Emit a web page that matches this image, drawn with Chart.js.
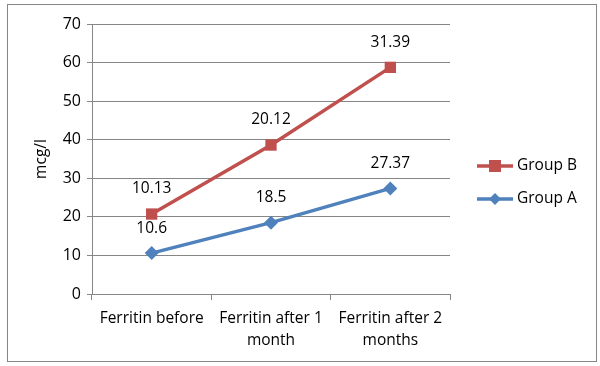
<!DOCTYPE html>
<html>
<head>
<meta charset="utf-8">
<script src="https://cdn.jsdelivr.net/npm/chart.js@4"></script>
<style>
  html, body { margin: 0; padding: 0; background: #fff; }
  #wrap { width: 600px; height: 366px; position: relative; }
</style>
</head>
<body>
<div id="wrap"><canvas id="myChart" width="600" height="366"></canvas></div>
<script>
// Data (Excel stacked line: B sits on top of A)
const categories = ['Ferritin before', ['Ferritin after 1', 'month'], ['Ferritin after 2', 'months']];
const groupA = [10.6, 18.5, 27.37];
const groupB = [10.13, 20.12, 31.39];
const seriesNames = ['Group A', 'Group B'];
const yTicksMax = 70;

const FONT = '"Open Sans", sans-serif';
const colA = '#4F81BD';
const colB = '#C0504D';

// frame round the whole chart
const framePlugin = {
  id: 'frame',
  beforeDraw(chart) {
    const c = chart.ctx;
    c.save();
    c.fillStyle = '#fff';
    c.fillRect(0, 0, chart.width, chart.height);
    c.strokeStyle = '#868686';
    c.lineWidth = 1;
    c.strokeRect(7.5, 4.5, 589, 357);
    c.restore();
  }
};

// value labels above each point (raw values, not stacked totals)
const valueLabels = {
  id: 'valueLabels',
  afterDatasetsDraw(chart) {
    const c = chart.ctx;
    c.save();
    c.font = '15.5px ' + FONT;
    c.fillStyle = '#000';
    c.textAlign = 'center';
    c.textBaseline = 'middle';
    chart.data.datasets.forEach((ds, i) => {
      chart.getDatasetMeta(i).data.forEach((pt, j) => {
        c.fillText(String(ds.data[j]), pt.x, pt.y - 25);
      });
    });
    c.restore();
  }
};

// legend on the right: line with marker, Group B first
const sideLegend = {
  id: 'sideLegend',
  afterDraw(chart) {
    const c = chart.ctx;
    const items = [
      { name: seriesNames[1], color: colB, style: 'rect', y: 166 },
      { name: seriesNames[0], color: colA, style: 'rectRot', y: 199 }
    ];
    c.save();
    items.forEach(it => {
      c.strokeStyle = it.color;
      c.lineWidth = 3.5;
      c.beginPath();
      c.moveTo(477, it.y);
      c.lineTo(513, it.y);
      c.stroke();
      c.fillStyle = it.color;
      if (it.style === 'rect') {
        c.fillRect(489, it.y - 6, 12, 12);
      } else {
        c.beginPath();
        c.moveTo(495, it.y - 6);
        c.lineTo(501, it.y);
        c.lineTo(495, it.y + 6);
        c.lineTo(489, it.y);
        c.closePath();
        c.fill();
      }
      c.font = '15.5px ' + FONT;
      c.fillStyle = '#000';
      c.textAlign = 'left';
      c.textBaseline = 'middle';
      c.fillText(it.name, 517, it.y);
    });
    c.restore();
  }
};

const ctx = document.getElementById('myChart');

const config = {
  type: 'line',
  data: {
    labels: categories,
    datasets: [
      {
        label: seriesNames[0],
        data: groupA,
        borderColor: colA,
        backgroundColor: colA,
        borderWidth: 3.5,
        pointStyle: 'rectRot',
        pointRadius: 7,
        pointBorderWidth: 0,
        fill: false,
        tension: 0
      },
      {
        label: seriesNames[1],
        data: groupB,
        borderColor: colB,
        backgroundColor: colB,
        borderWidth: 3.5,
        pointStyle: 'rect',
        pointRadius: 8,
        pointBorderWidth: 0,
        fill: false,
        tension: 0
      }
    ]
  },
  options: {
    responsive: false,
    animation: false,
    layout: { padding: { top: 24, right: 150, left: 30, bottom: 0 } },
    plugins: {
      legend: { display: false },
      tooltip: { enabled: false }
    },
    scales: {
      x: {
        offset: true,
        grid: {
          offset: true,
          drawOnChartArea: false,
          drawTicks: true,
          tickLength: 6,
          color: '#868686'
        },
        border: { color: '#868686' },
        ticks: {
          color: '#000',
          font: { family: FONT, size: 15.5, lineHeight: 1.4 },
          padding: 8,
          maxRotation: 0,
          autoSkip: false
        },
        afterFit(scale) { scale.height = 72; }
      },
      y: {
        stacked: true,
        min: 0,
        max: yTicksMax,
        grid: { color: '#868686', tickLength: 5 },
        border: { color: '#868686' },
        ticks: {
          stepSize: 10,
          color: '#000',
          font: { family: FONT, size: 16 },
          padding: 6
        },
        title: {
          display: true,
          text: 'mcg/l',
          color: '#000',
          font: { family: FONT, size: 15.5 },
          padding: { top: 2, bottom: 0 }
        },
        afterFit(scale) { scale.width = 62; }
      }
    }
  },
  plugins: [framePlugin, valueLabels, sideLegend]
};

const myChart = new Chart(ctx, config);
</script>
</body>
</html>
